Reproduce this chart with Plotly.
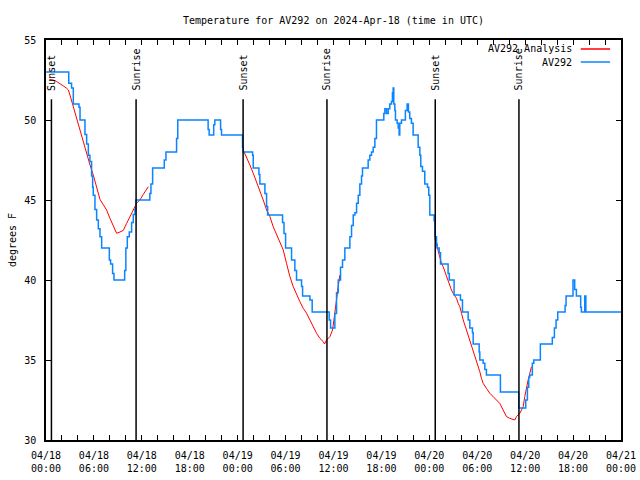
import pandas as pd
import plotly.graph_objects as go

BASE = pd.Timestamp("2024-04-18 00:00")

# Observed station series AV292 (hours since 04/18 00:00 UTC, deg F) - step data
obs_hours = [0.0, 2.85, 3.2, 3.42, 4.13, 4.26, 4.88, 5.09, 5.3, 5.5, 5.71, 5.84, 5.92, 6.13, 6.34,
             6.55, 6.76, 6.97, 7.93, 8.09, 8.34, 8.51, 9.85, 10.0, 10.18, 10.43, 10.72, 10.93, 11.14,
             11.26, 13.0, 13.14, 13.35, 14.81, 15.02, 16.35, 16.5, 20.3, 20.43, 21.0, 21.14, 21.86,
             21.98, 24.61, 24.69, 25.87, 25.95, 26.66, 26.78, 27.41, 27.62, 27.75, 29.62, 29.8, 30.0,
             30.75, 31.16, 31.37, 32.0, 32.13, 33.05, 33.33, 35.46, 35.63, 36.17, 36.38, 36.59, 36.88,
             37.13, 37.42, 38.05, 38.26, 38.47, 38.68, 38.89, 39.1, 39.3, 39.51, 39.63, 40.34, 40.55,
             40.76, 40.97, 41.18, 41.38, 42.3, 42.43, 42.64, 42.85, 43.05, 43.26, 43.38, 43.47, 43.55,
             43.68, 43.76, 43.97, 44.1, 44.22, 44.3, 44.51, 45.0, 45.22, 45.38, 45.55, 45.76, 45.97,
             46.6, 46.81, 46.93, 47.14, 47.43, 47.77, 47.93, 48.06, 48.6, 48.69, 48.9, 48.98, 49.23,
             49.4, 50.35, 50.5, 51.1, 51.9, 52.15, 52.86, 53.07, 53.4, 53.49, 54.24, 54.32, 54.74,
             54.95, 55.15, 56.9, 59.2, 60.07, 60.28, 60.45, 60.57, 60.9, 61.08, 61.9, 63.4, 63.66,
             63.87, 64.08, 65.0, 65.12, 65.99, 66.2, 66.41, 66.95, 67.04, 67.46, 67.6, 72.0]
obs_temps = [53.0, 52.3, 52.0, 51.0, 50.8, 50.0, 49.1, 48.5, 47.8, 47.4, 46.5, 45.8, 45.3, 44.4, 43.75,
             43.2, 42.7, 42.0, 41.25, 41.0, 40.4, 40.0, 40.6, 42.0, 42.7, 43.0, 43.6, 44.1, 44.4,
             45.0, 45.4, 46.0, 47.0, 47.5, 48.0, 48.85, 50.0, 49.4, 49.06, 49.7, 50.0, 49.4,
             49.06, 48.3, 48.0, 47.8, 47.0, 46.6, 46.0, 45.4, 44.6, 44.06, 43.6, 42.9, 42.0,
             41.25, 40.6, 40.0, 39.6, 39.0, 38.75, 38.0, 37.5, 37.0, 37.9, 39.2, 40.0, 40.8,
             41.25, 42.0, 42.7, 43.4, 44.06, 44.2, 44.8, 45.3, 46.0, 46.5, 47.0, 47.5, 47.8,
             48.0, 48.3, 48.85, 50.0, 50.4, 50.7, 50.4, 50.7, 51.0, 51.15, 51.7, 52.0, 51.0,
             50.6, 50.0, 49.8, 49.5, 49.06, 49.8, 50.0, 50.6, 51.0, 50.5, 50.1, 49.8, 49.06,
             48.3, 47.8, 47.1, 46.8, 46.0, 45.8, 45.3, 44.06, 43.7, 42.7, 42.25, 42.0, 41.7,
             41.0, 40.4, 40.0, 39.06, 38.75, 38.0, 37.5, 37.0, 36.7, 36.0, 35.5, 35.0, 34.8,
             34.4, 34.06, 33.0, 32.0, 32.5, 33.3, 33.9, 34.06, 34.8, 35.0, 36.0, 36.4, 37.0,
             37.5, 38.0, 38.4, 39.0, 40.0, 39.4, 39.0, 38.3, 38.0, 39.0, 38.0, 38.0]

# Analysis series (three separate segments)
ana1_hours = [0.42, 0.92, 1.34, 1.75, 2.17, 2.59, 2.8, 3.0, 3.42, 3.84, 4.26, 4.67, 5.09, 5.51, 5.92,
              6.34, 6.76, 7.18, 7.59, 8.01, 8.43, 8.84, 9.26, 9.68, 10.1, 10.51, 10.93, 11.35, 11.76,
              12.18, 12.6, 12.81]
ana1_temps = [52.54, 52.5, 52.4, 52.29, 52.13, 51.98, 51.88, 51.56, 50.83, 50.1, 49.38, 48.54, 47.92,
              47.19, 46.56, 45.83, 45.04, 44.7, 44.375, 43.85, 43.33, 42.92, 43.0, 43.1, 43.54, 44.0,
              44.375, 44.8, 45.0, 45.35, 45.65, 45.83]
ana2_hours = [24.69, 25.11, 25.53, 25.95, 26.37, 26.78, 27.2, 27.62, 28.04, 28.45, 28.87, 29.29, 29.71,
              30.12, 30.54, 30.96, 31.37, 31.79, 32.21, 32.63, 33.05, 33.46, 33.88, 34.3, 34.71,
              34.88, 35.13, 35.55, 35.76, 35.88, 36.05, 36.17, 36.3, 36.38, 36.59, 36.8]
ana2_temps = [48.125, 47.71, 47.19, 46.67, 46.15, 45.52, 45.0, 44.375, 43.96, 43.33, 42.81, 42.29,
              41.875, 41.04, 40.21, 39.58, 39.06, 38.65, 38.23, 37.92, 37.5, 37.08, 36.67, 36.35,
              36.15, 36.0, 36.25, 36.46, 36.67, 36.875, 37.5, 38.02, 38.33, 38.85, 39.58, 40.31]
ana3_hours = [48.69, 48.9, 49.1, 49.31, 49.52, 49.73, 49.94, 50.15, 50.36, 50.56, 50.77, 50.98, 51.4,
              51.61, 51.82, 52.03, 52.24, 52.65, 53.07, 53.49, 53.91, 54.32, 54.53, 54.74, 55.15,
              55.57, 55.99, 56.41, 56.82, 57.24, 57.66, 58.08, 58.49, 58.7, 58.91, 59.33, 59.54,
              59.75, 59.95, 60.16, 60.37, 60.58, 60.79]
ana3_temps = [42.6, 42.19, 41.875, 41.46, 41.04, 40.83, 40.52, 40.21, 39.9, 39.58, 39.375, 39.17,
              38.85, 38.54, 38.33, 37.92, 37.5, 36.875, 36.25, 35.52, 34.9, 34.27, 33.85, 33.54,
              33.23, 32.92, 32.71, 32.5, 32.29, 31.875, 31.46, 31.35, 31.29, 31.25, 31.46, 31.67,
              31.875, 32.08, 32.71, 33.33, 33.75, 34.17, 34.58]

# Sun events (hours since 04/18 00:00 UTC)
event_hours = [0.68, 11.28, 24.68, 35.18, 48.74, 59.22]
event_labels = ["Sunset", "Sunrise", "Sunset", "Sunrise", "Sunset", "Sunrise"]

tick_hours = [0, 6, 12, 18, 24, 30, 36, 42, 48, 54, 60, 66, 72]
tick_labels = ["04/18<br>00:00", "04/18<br>06:00", "04/18<br>12:00", "04/18<br>18:00",
               "04/19<br>00:00", "04/19<br>06:00", "04/19<br>12:00", "04/19<br>18:00",
               "04/20<br>00:00", "04/20<br>06:00", "04/20<br>12:00", "04/20<br>18:00",
               "04/21<br>00:00"]
y_ticks = [30, 35, 40, 45, 50, 55]

series_names = ["AV292 Analysis", "AV292"]
RED = "#ff0000"
BLUE = "#0a84ff"
FONT = "DejaVu Sans Mono"


def to_time(hours):
    return list(BASE + pd.to_timedelta(hours, unit="h"))


fig = go.Figure()
for i, (hh, tt) in enumerate([(ana1_hours, ana1_temps), (ana2_hours, ana2_temps), (ana3_hours, ana3_temps)]):
    fig.add_trace(go.Scatter(x=to_time(hh), y=tt, mode="lines", line=dict(color=RED, width=1),
                             name=series_names[0], showlegend=False, hoverinfo="skip"))
fig.add_trace(go.Scatter(x=to_time(obs_hours), y=obs_temps, mode="lines",
                         line=dict(color=BLUE, width=1.5, shape="hv"),
                         name=series_names[1], showlegend=False))

for h, lab in zip(event_hours, event_labels):
    t = BASE + pd.Timedelta(hours=h)
    fig.add_shape(type="line", xref="x", yref="y", x0=t, x1=t, y0=30, y1=51.3,
                  line=dict(color="black", width=1.5), layer="above")
    fig.add_annotation(x=t, y=51.72, xref="x", yref="y", text=lab, textangle=-90,
                       showarrow=False, xanchor="center", yanchor="bottom",
                       font=dict(family=FONT, size=10, color="black"))

# gnuplot-style legend: text then line sample
leg_y = [0.9775, 0.945]
leg_col = [RED, BLUE]
for name, yy, col in zip(series_names, leg_y, leg_col):
    fig.add_annotation(x=0.918, y=yy, xref="paper", yref="paper", text=name, showarrow=False,
                       xanchor="right", yanchor="middle", font=dict(family=FONT, size=10, color="black"))
    fig.add_shape(type="line", xref="paper", yref="paper", x0=0.930, x1=0.981, y0=yy, y1=yy,
                  line=dict(color=col, width=1.5))

fig.add_annotation(x=-0.059, y=0.5, xref="paper", yref="paper", text="degrees F", textangle=-90,
                   showarrow=False, xanchor="center", yanchor="middle",
                   font=dict(family=FONT, size=10, color="black"))

fig.update_layout(
    width=640, height=480,
    margin=dict(l=46, r=19, t=40, b=40, autoexpand=False),
    paper_bgcolor="white", plot_bgcolor="white",
    showlegend=False,
    font=dict(family=FONT, size=10, color="black"),
    title=dict(text="Temperature for AV292 on 2024-Apr-18 (time in UTC)", x=0.5, xref="paper",
               xanchor="center", y=1 - 20 / 480, yanchor="middle",
               font=dict(family=FONT, size=10, color="black")),
    xaxis=dict(range=[BASE, BASE + pd.Timedelta(hours=72)], automargin=False,
               tickvals=to_time(tick_hours), ticktext=tick_labels,
               ticks="inside", ticklen=5, tickcolor="black", tickwidth=1,
               showline=True, linecolor="black", linewidth=1.5, mirror="allticks",
               showgrid=False, zeroline=False, ticklabelstandoff=5,
               minor=dict(tick0=BASE, dtick=2 * 3600 * 1000, ticks="inside", ticklen=5,
                          tickcolor="black", tickwidth=1, showgrid=False),
               tickfont=dict(family=FONT, size=10, color="black")),
    yaxis=dict(range=[30, 55], tickvals=y_ticks, ticks="inside", ticklen=5, tickcolor="black",
               showline=True, linecolor="black", linewidth=1.5, mirror="allticks", automargin=False,
               showgrid=False, zeroline=False, ticklabelstandoff=6,
               tickfont=dict(family=FONT, size=10, color="black")),
)

# remove the default page margin so the 640x480 figure fills the window exactly
fig.write_html("out.html", config={"displayModeBar": False},
               post_script="document.body.style.margin='0';document.body.style.overflow='hidden';")
